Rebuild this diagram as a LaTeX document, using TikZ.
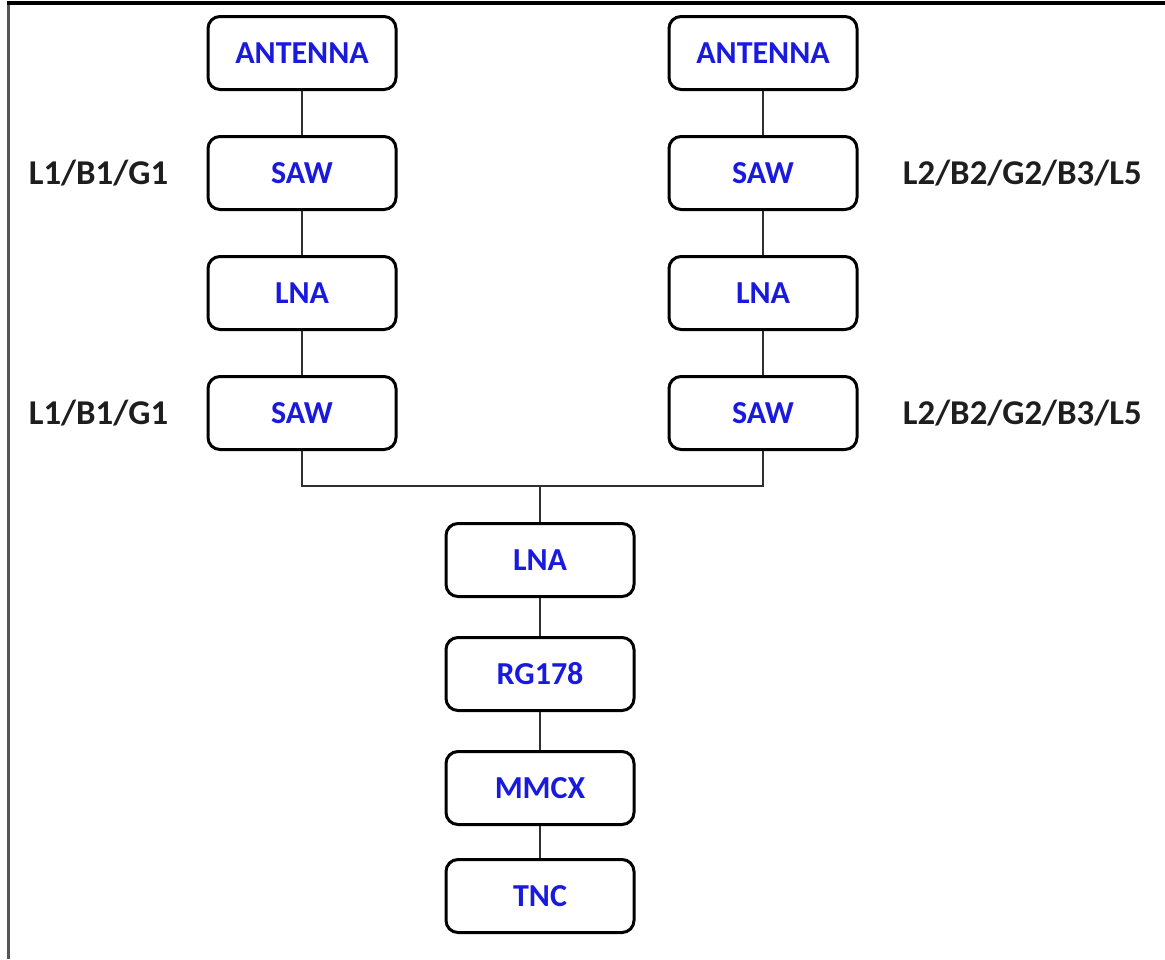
\documentclass[tikz,border=0pt]{standalone}
\usepackage{fontspec}
\setmainfont{Carlito}
\usepackage{tikz}
\usetikzlibrary{positioning}
\definecolor{BoxBlue}{HTML}{1A1ADE}
\definecolor{Ink}{HTML}{1E1E1E}
\definecolor{Wire}{HTML}{303030}
\definecolor{EdgeGrey}{HTML}{555555}

\begin{document}
\begin{tikzpicture}[
  x=0.5pt,y=-0.5pt,
  every node/.style={font=\bfseries},
  blk/.style={rounded corners=6pt,draw=black,line width=1.5pt,fill=white,
    minimum width=94pt,minimum height=36.5pt,text=BoxBlue,font=\fontsize{16}{19}\bfseries},
  band/.style={inner sep=0pt,text=Ink,font=\fontsize{17.4}{20}\bfseries},
  wire/.style={line width=0.8pt,Wire}
]
\useasboundingbox (0,0) rectangle (1165,959);
\draw[line width=1.5pt,EdgeGrey] (8,959) -- (8,3);
\draw[line width=1.6pt,black] (7,3) -- (1165,3);

% left branch
\node[blk] (antL) at (302,53) {ANTENNA};
\node[blk,below=22pt of antL] (sawLa) {SAW};
\node[blk,below=22pt of sawLa] (lnaL) {LNA};
\node[blk,below=22pt of lnaL] (sawLb) {SAW};
\node[band,left=19pt of sawLa] (bandLa) {L1/B1/G1};
\node[band,left=19pt of sawLb] (bandLb) {L1/B1/G1};

% right branch
\node[blk] (antR) at (763,53) {ANTENNA};
\node[blk,below=22pt of antR] (sawRa) {SAW};
\node[blk,below=22pt of sawRa] (lnaR) {LNA};
\node[blk,below=22pt of lnaR] (sawRb) {SAW};
\node[band,right=22pt of sawRa] (bandRa) {L2/B2/G2/B3/L5};
\node[band,right=22pt of sawRb] (bandRb) {L2/B2/G2/B3/L5};

% common chain
\node[blk] (lnaC) at (540,560) {LNA};
\node[blk,below=19pt of lnaC] (coax) {RG178};
\node[blk,below=19pt of coax] (mmcx) {MMCX};
\node[blk,below=16pt of mmcx] (tnc) {TNC};
\coordinate (junc) at (540,486);

\draw[wire] (antL) -- (sawLa) -- (lnaL) -- (sawLb);
\draw[wire] (antR) -- (sawRa) -- (lnaR) -- (sawRb);
\draw[wire] (sawLb) |- (junc) -| (sawRb);
\draw[wire] (junc) -- (lnaC);
\draw[wire] (lnaC) -- (coax) -- (mmcx) -- (tnc);
\end{tikzpicture}
\end{document}
